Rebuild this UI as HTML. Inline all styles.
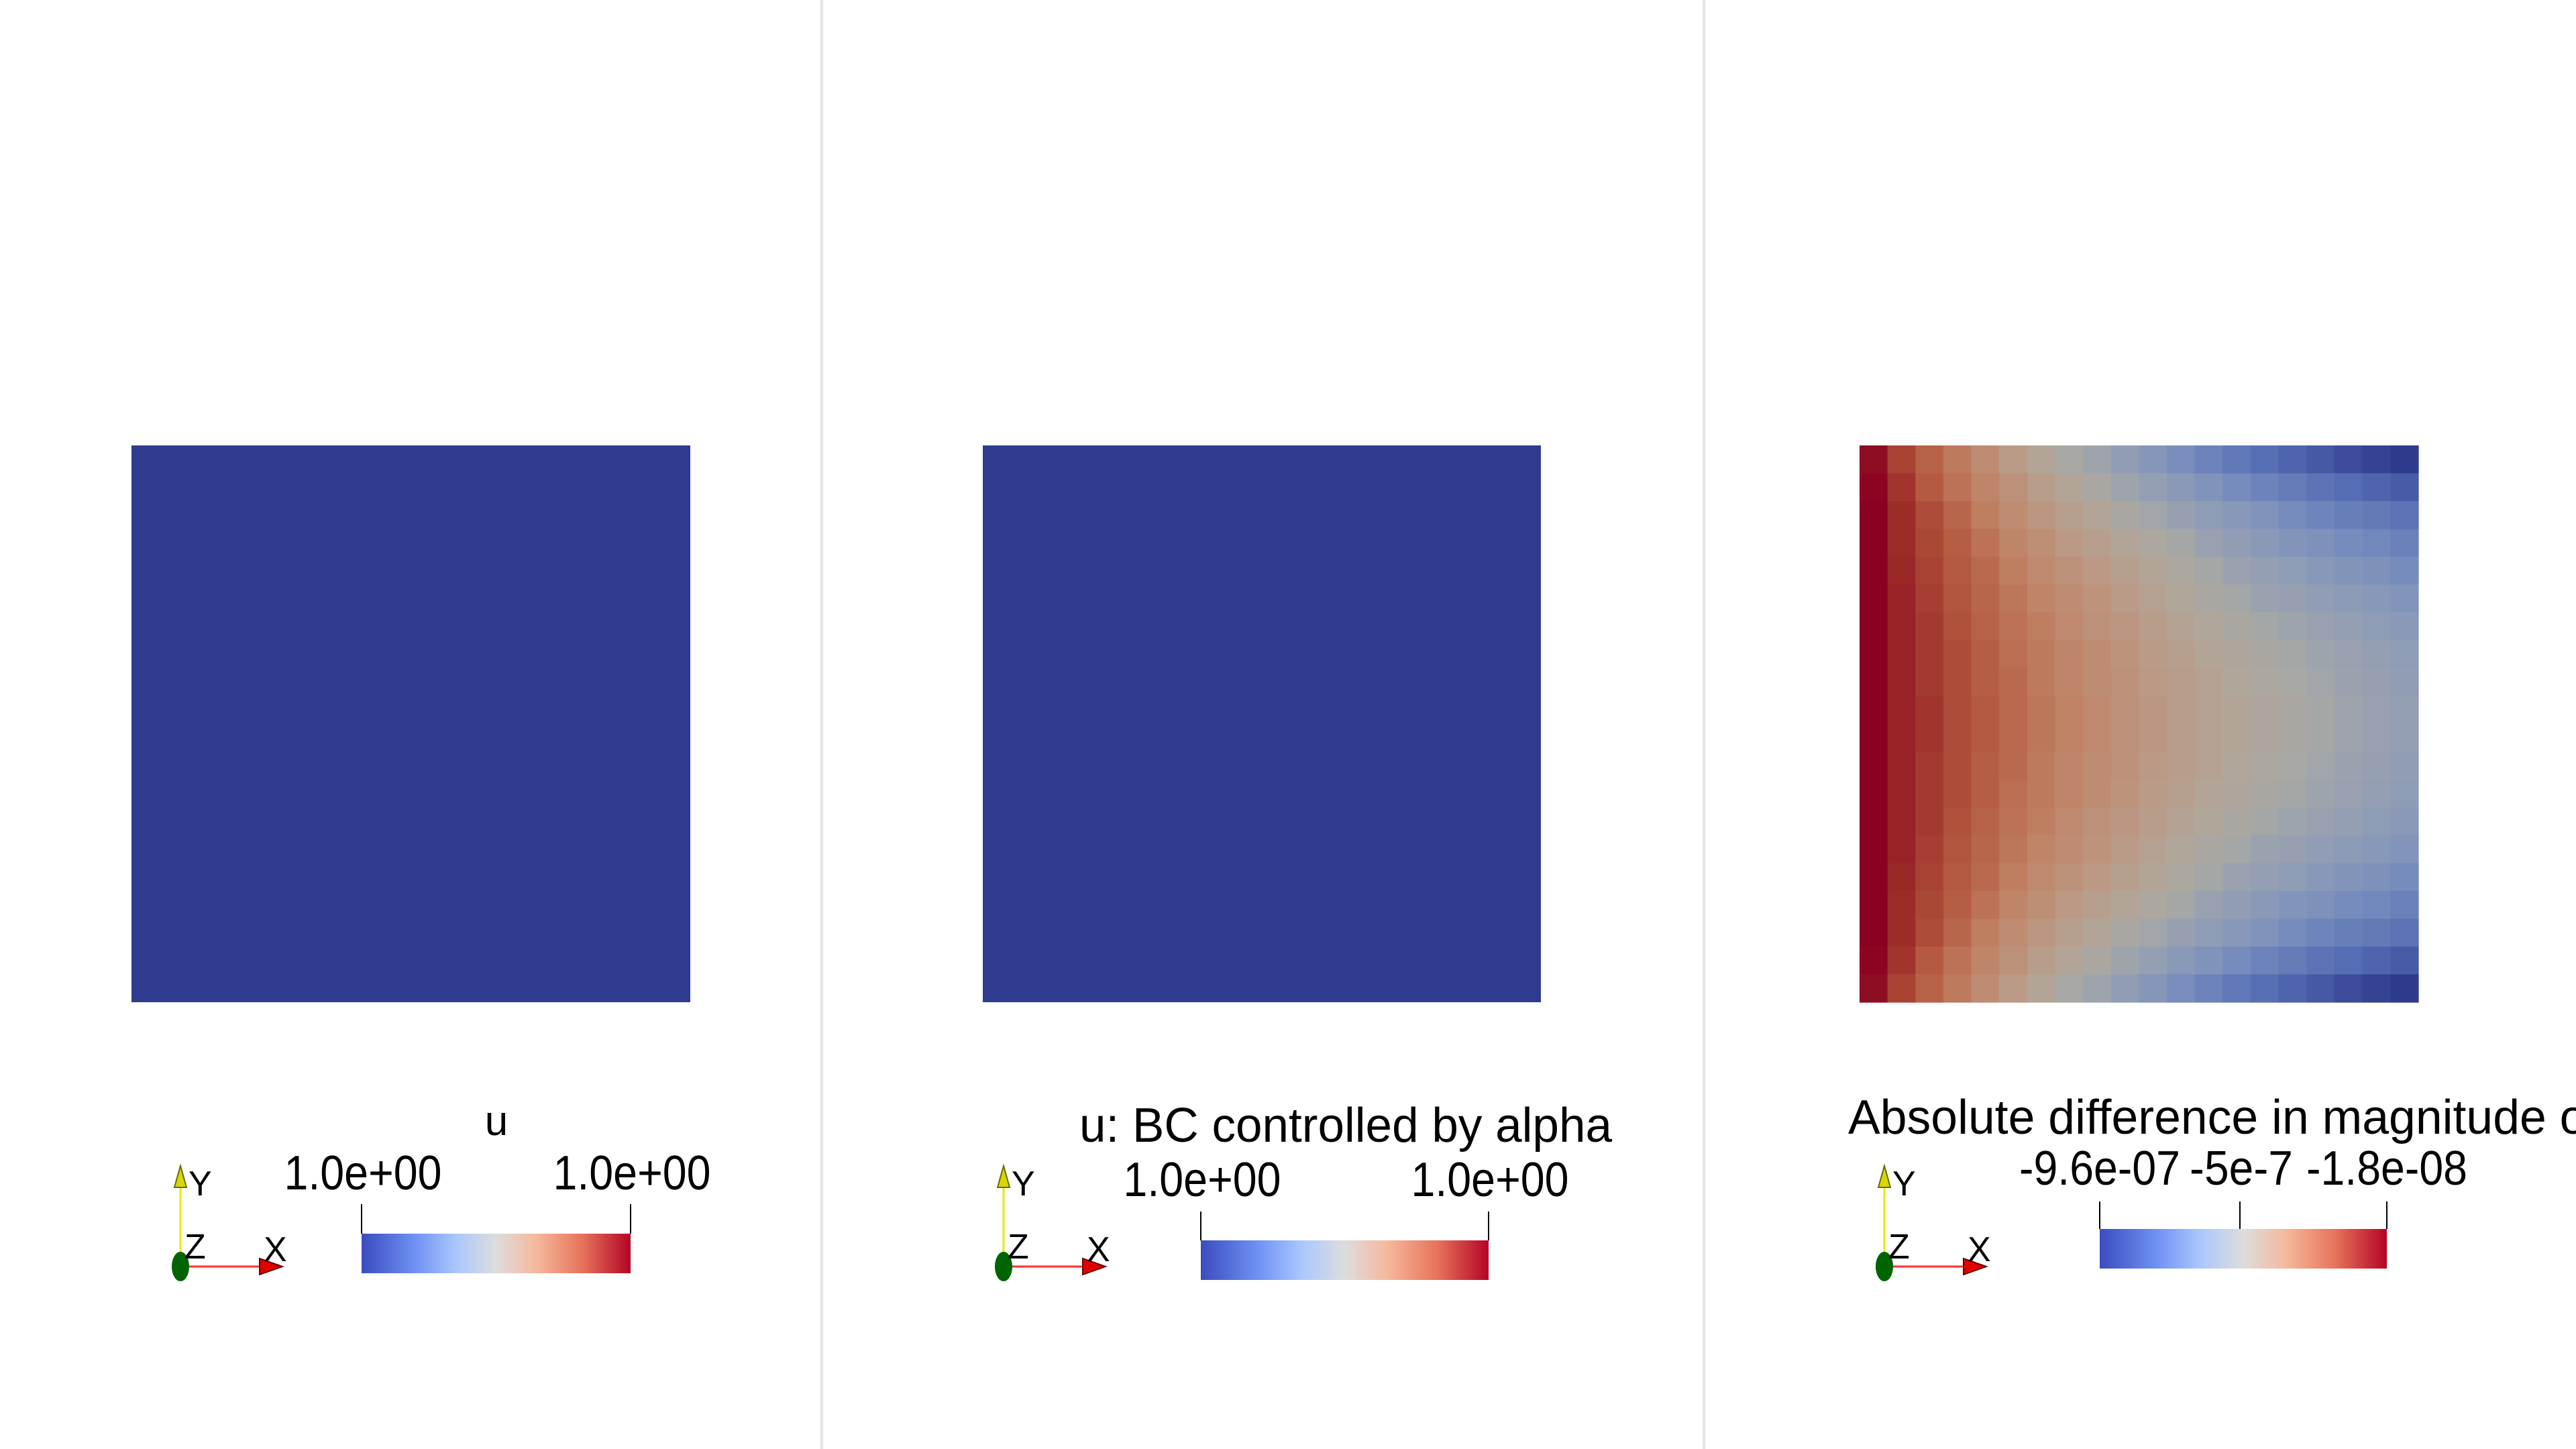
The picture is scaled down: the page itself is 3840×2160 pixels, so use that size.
<!DOCTYPE html>
<html><head><meta charset="utf-8"><style>
html,body{margin:0;padding:0;background:#fff;width:3840px;height:2160px;overflow:hidden}
svg{display:block}
text{font-family:"Liberation Sans",sans-serif;fill:#000}
</style></head><body>
<svg id="root" width="3840" height="2160" viewBox="0 0 3840 2160">
<defs>
<linearGradient id="cw" x1="0" x2="1" y1="0" y2="0">
<stop offset="0" stop-color="#3b4cc0"/><stop offset="0.2" stop-color="#6f92f3"/><stop offset="0.35" stop-color="#aac7fd"/>
<stop offset="0.5" stop-color="#dddddd"/><stop offset="0.65" stop-color="#f5b89c"/><stop offset="0.82" stop-color="#e7745b"/><stop offset="1" stop-color="#b40426"/>
</linearGradient>
</defs>
<line x1="1225" y1="0" x2="1225" y2="2160" stroke="#e4e4e4" stroke-width="4"/>
<line x1="2540" y1="0" x2="2540" y2="2160" stroke="#e4e4e4" stroke-width="4"/>
<rect x="196" y="664" width="833" height="830" fill="#2f3b8e"/>
<rect x="1465" y="664" width="832" height="830" fill="#2f3b8e"/>
<g id="heat"></g>

<g>
<text x="740" y="1692" font-size="62" text-anchor="middle">u</text>
<text x="541" y="1773" font-size="72" text-anchor="middle" textLength="235" lengthAdjust="spacingAndGlyphs">1.0e+00</text>
<text x="942" y="1773" font-size="72" text-anchor="middle" textLength="235" lengthAdjust="spacingAndGlyphs">1.0e+00</text>
<line x1="539" y1="1795" x2="539" y2="1839" stroke="#000" stroke-width="2"/>
<line x1="940" y1="1795" x2="940" y2="1839" stroke="#000" stroke-width="2"/>
<rect x="539" y="1839" width="401" height="59" fill="url(#cw)"/>
</g>
<g>
<text x="2006" y="1702" font-size="72" text-anchor="middle" textLength="794" lengthAdjust="spacingAndGlyphs">u: BC controlled by alpha</text>
<text x="1792" y="1783" font-size="72" text-anchor="middle" textLength="235" lengthAdjust="spacingAndGlyphs">1.0e+00</text>
<text x="2221" y="1783" font-size="72" text-anchor="middle" textLength="235" lengthAdjust="spacingAndGlyphs">1.0e+00</text>
<line x1="1790" y1="1806" x2="1790" y2="1849" stroke="#000" stroke-width="2"/>
<line x1="2219" y1="1806" x2="2219" y2="1849" stroke="#000" stroke-width="2"/>
<rect x="1790" y="1849" width="429" height="59" fill="url(#cw)"/>
</g>
<g>
<text x="2755" y="1690" font-size="72" textLength="1180" lengthAdjust="spacingAndGlyphs">Absolute difference in magnitude of u</text>
<text x="3130" y="1766" font-size="72" text-anchor="middle" textLength="240" lengthAdjust="spacingAndGlyphs">-9.6e-07</text>
<text x="3341" y="1766" font-size="72" text-anchor="middle" textLength="154" lengthAdjust="spacingAndGlyphs">-5e-7</text>
<text x="3558" y="1766" font-size="72" text-anchor="middle" textLength="240" lengthAdjust="spacingAndGlyphs">-1.8e-08</text>
<line x1="3130" y1="1791" x2="3130" y2="1832" stroke="#000" stroke-width="2"/>
<line x1="3339" y1="1791" x2="3339" y2="1832" stroke="#000" stroke-width="2"/>
<line x1="3558" y1="1791" x2="3558" y2="1832" stroke="#000" stroke-width="2"/>
<rect x="3130" y="1832" width="428" height="59" fill="url(#cw)"/>
</g>
<g id="triads"></g>
</svg>
<script>
const heatTop = [
[0.97,0.85,0.78,0.72,0.66,0.60,0.55,0.50,0.47,0.42,0.37,0.32,0.27,0.22,0.18,0.14,0.10,0.06,0.03,0.00],
[0.99,0.88,0.80,0.74,0.69,0.64,0.59,0.55,0.51,0.47,0.43,0.39,0.35,0.31,0.27,0.24,0.20,0.17,0.14,0.11],
[1.00,0.90,0.83,0.77,0.71,0.66,0.62,0.58,0.55,0.51,0.48,0.44,0.41,0.38,0.35,0.31,0.28,0.25,0.23,0.20],
[1.00,0.90,0.84,0.79,0.74,0.69,0.65,0.61,0.58,0.55,0.52,0.49,0.45,0.42,0.39,0.36,0.34,0.31,0.29,0.26],
[1.00,0.91,0.85,0.80,0.76,0.71,0.67,0.64,0.61,0.58,0.55,0.52,0.49,0.46,0.43,0.41,0.38,0.36,0.34,0.31],
[1.00,0.92,0.86,0.81,0.77,0.73,0.69,0.66,0.63,0.60,0.57,0.54,0.51,0.49,0.46,0.44,0.42,0.40,0.38,0.36],
[1.00,0.92,0.87,0.82,0.78,0.74,0.71,0.67,0.64,0.62,0.59,0.56,0.54,0.51,0.49,0.47,0.45,0.43,0.41,0.39],
[1.00,0.92,0.87,0.83,0.79,0.75,0.72,0.69,0.66,0.63,0.60,0.58,0.55,0.53,0.51,0.49,0.47,0.45,0.43,0.41],
[1.00,0.92,0.87,0.83,0.79,0.76,0.72,0.69,0.66,0.64,0.61,0.59,0.57,0.54,0.52,0.50,0.48,0.46,0.44,0.42],
[1.00,0.92,0.88,0.83,0.80,0.76,0.73,0.70,0.67,0.64,0.62,0.59,0.57,0.55,0.53,0.51,0.49,0.47,0.45,0.43]
];
const heatBottom = heatTop.slice().reverse();
const heatValues = heatTop.concat(heatBottom);
const stopsPos = [0,0.15,0.3,0.4,0.46,0.5,0.55,0.6,0.7,0.8,0.9,1];
const stopsCol = [[46,58,140],[80,104,176],[115,138,190],[140,155,182],[155,162,175],[168,168,164],[178,165,152],[186,155,135],[192,130,100],[180,90,64],[156,44,40],[138,0,32]];
function cmap(v){
  for(let i=1;i<stopsPos.length;i++){
    if(v<=stopsPos[i]){const t=(v-stopsPos[i-1])/(stopsPos[i]-stopsPos[i-1]);
      const a=stopsCol[i-1],b=stopsCol[i];
      return 'rgb('+a.map((c,k)=>Math.round(c+(b[k]-c)*t)).join(',')+')';}
  }
  return 'rgb(138,0,32)';
}
const NS='http://www.w3.org/2000/svg';
const hx0=2772,hy0=664,hw=833,hh=830;
const nRows=heatValues.length,nCols=heatValues[0].length;
function xScale(c){return hx0+c*hw/nCols;}
function yScale(r){return hy0+r*hh/nRows;}
const heat=document.getElementById('heat');
heatValues.forEach((row,r)=>row.forEach((v,c)=>{
  const el=document.createElementNS(NS,'rect');
  el.setAttribute('x',xScale(c));el.setAttribute('y',yScale(r));
  el.setAttribute('width',hw/nCols+0.6);el.setAttribute('height',hh/nRows+0.6);
  el.setAttribute('fill',cmap(v));
  
  
  heat.appendChild(el);
}));
const triadOrigins=[[269,1888],[1496,1888],[2809,1888]];
const tg=document.getElementById('triads');
triadOrigins.forEach(([ox,oy])=>{
  const g=document.createElementNS(NS,'g');
  
  
  g.innerHTML=
   `<line x1="${ox}" y1="${oy}" x2="${ox}" y2="${oy-140}" stroke="#e8e800" stroke-width="3"/>
    <polygon points="${ox-9},${oy-118} ${ox+9},${oy-118} ${ox},${oy-150}" fill="#d8d800" stroke="#6a6a00" stroke-width="2"/>
    <line x1="${ox}" y1="${oy}" x2="${ox+140}" y2="${oy}" stroke="#ff3030" stroke-width="3"/>
    <polygon points="${ox+118},${oy-12} ${ox+118},${oy+12} ${ox+152},${oy}" fill="#e00000" stroke="#600" stroke-width="2"/>
    <ellipse cx="${ox}" cy="${oy}" rx="13" ry="22" fill="#006400"/>
    <text x="${ox+12}" y="${oy-106}" font-size="52">Y</text>
    <text x="${ox+6}" y="${oy-12}" font-size="52">Z</text>
    <text x="${ox+124}" y="${oy-8}" font-size="52">X</text>`;
  tg.appendChild(g);
});
</script>
</body></html>
